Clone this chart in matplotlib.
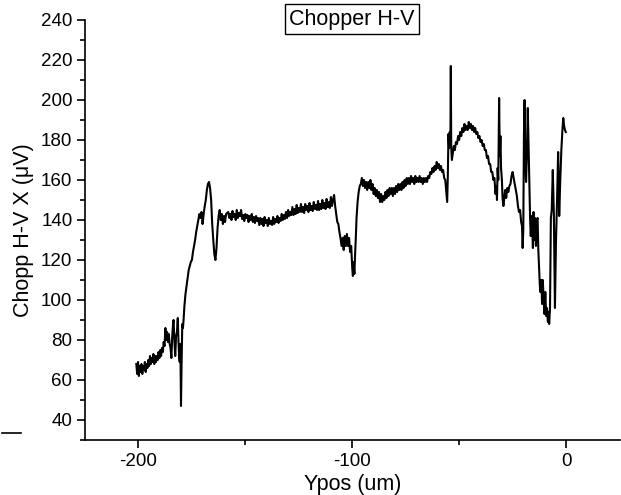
import matplotlib
matplotlib.use("Agg")
import matplotlib.pyplot as plt
from matplotlib.ticker import MultipleLocator
from matplotlib.lines import Line2D

plt.rcParams['font.family'] = ['Liberation Sans', 'DejaVu Sans']

# ---- data ----
xpos_a = [-201.0, -200.6, -200.2, -199.8, -199.4, -199.0, -198.6, -198.2, -197.8, -197.4,
          -197.0, -196.6, -196.2, -195.8, -195.4, -195.0, -194.6, -194.2, -193.8, -193.4,
          -193.0, -192.6, -192.2, -191.8, -191.4, -191.0, -190.6, -190.2, -189.8, -189.4,
          -189.0, -188.6, -188.2, -187.8, -187.4, -187.0, -186.6, -186.2, -185.8, -185.4,
          -185.0, -184.6, -184.2, -183.8, -183.6, -183.2, -182.8, -182.4, -182.0, -181.6,
          -181.3, -181.0, -180.7, -180.4, -180.1, -179.8, -179.5, -179.2, -178.9]
volt_a = [68, 63, 69, 62, 67, 64, 68, 63, 67, 65,
          69, 64, 68, 66, 70, 67, 72, 68, 71, 69,
          73, 68, 72, 69, 72, 70, 74, 71, 75, 72,
          76, 74, 79, 77, 86, 80, 84, 79, 83, 78,
          76, 71, 82, 88, 90, 80, 72, 82, 84, 91,
          80, 72, 69, 78, 47, 70, 88, 86, 90]

xpos_b = [-178.5, -178.0, -177.5, -177.0, -176.5, -176.0, -175.5, -175.0, -174.5, -174.0,
          -173.5, -173.0, -172.5, -172.0, -171.5, -171.0, -170.5, -170.0, -169.5, -169.0,
          -168.5, -168.0, -167.5, -167.0, -166.5, -166.0, -165.5, -165.0, -164.5, -164.0,
          -163.5, -163.0, -162.5, -162.0, -161.5, -161.0, -160.5, -160.0, -159.5, -159.0]
volt_b = [97, 103, 107, 111, 115, 117, 119, 120, 124, 127,
          130, 134, 137, 140, 143, 141, 144, 138, 143, 147,
          150, 155, 158, 159, 156, 150, 138, 130, 123, 120,
          126, 136, 142, 145, 140, 143, 138, 142, 139, 143]

xpos_c = [-158.0, -157.5, -157.0, -156.5, -156.0, -155.5, -155.0, -154.5, -154.0, -153.5,
          -153.0, -152.5, -152.0, -151.5, -151.0, -150.5, -150.0, -149.5, -149.0, -148.5,
          -148.0, -147.5, -147.0, -146.5, -146.0, -145.5, -145.0, -144.5, -144.0, -143.5,
          -143.0, -142.5, -142.0, -141.5, -141.0, -140.5, -140.0, -139.5, -139.0, -138.5,
          -138.0, -137.5, -137.0, -136.5, -136.0, -135.5, -135.0, -134.5, -134.0, -133.5,
          -133.0, -132.5, -132.0, -131.5, -131.0, -130.5, -130.0, -129.5, -129.0, -128.5,
          -128.0, -127.5, -127.0, -126.5, -126.0, -125.5, -125.0, -124.5, -124.0, -123.5,
          -123.0, -122.5, -122.0, -121.5, -121.0, -120.5, -120.0, -119.5, -119.0, -118.5,
          -118.0, -117.5, -117.0, -116.5, -116.0, -115.5, -115.0, -114.5, -114.0, -113.5,
          -113.0, -112.5, -112.0, -111.5, -111.0, -110.5, -110.0, -109.5, -109.0, -108.5,
          -108.0]
volt_c = [144, 141, 143, 140, 144.5, 141.5, 143, 140, 145, 141,
          143.5, 142, 145, 140.5, 142.5, 139.5, 143, 141, 142.5, 139,
          142, 140, 143, 139, 141.5, 138.5, 142, 139.5, 141, 137.5,
          141, 138, 140.5, 137, 141.5, 138.5, 140, 137, 141, 138,
          139.5, 137.5, 141.5, 138, 140.5, 139, 142, 138.5, 141, 139.5,
          143, 140, 142.5, 140.5, 144, 141, 145, 142, 144, 142.5,
          146.5, 142.5, 145.5, 143, 147.5, 143.5, 146, 144, 148, 144,
          146.5, 143.5, 148, 145, 147, 144, 148.5, 145, 147, 144.5,
          149, 145.5, 147.5, 145, 149.5, 145, 148, 145.5, 150, 146,
          148.5, 145.5, 150.5, 146.5, 149, 146, 151.5, 147, 150, 152.5,
          147]

xpos_d = [-107.5, -107.0, -106.5, -106.0, -105.5, -105.0, -104.5, -104.0, -103.5, -103.0,
          -102.5, -102.0, -101.5, -101.0, -100.5, -100.0, -99.7, -99.4, -99.0, -98.7,
          -98.3, -98.0, -97.5, -97.0, -96.5, -96.0, -95.5, -95.0, -94.5, -94.0,
          -93.5, -93.0, -92.5, -92.0, -91.5, -91.0, -90.5, -90.0, -89.5, -89.0,
          -88.5, -88.0, -87.5, -87.0, -86.5, -86.0, -85.5, -85.0, -84.5, -84.0,
          -83.5, -83.0, -82.5, -82.0, -81.5, -81.0, -80.5, -80.0, -79.5, -79.0,
          -78.5, -78.0, -77.5, -77.0, -76.5, -76.0, -75.5, -75.0, -74.5, -74.0,
          -73.5, -73.0, -72.5, -72.0, -71.5, -71.0, -70.5, -70.0, -69.5, -69.0,
          -68.5, -68.0, -67.5, -67.0, -66.5, -66.0, -65.5, -65.0, -64.5, -64.0,
          -63.5, -63.0, -62.5, -62.0, -61.5, -61.0, -60.5, -60.0, -59.5, -59.0,
          -58.5, -58.0, -57.5, -57.0, -56.5, -56.0]
volt_d = [143, 139, 138, 134, 131, 127, 131, 125, 132, 127,
          133, 127, 131, 124, 127, 116, 112, 119, 113, 122,
          132, 141, 149, 154, 157, 158, 161, 157, 160, 156,
          159, 155, 159, 156, 160, 155, 158, 153, 156, 152,
          155, 151, 154, 149, 153, 149, 152, 150, 154, 151,
          155, 152, 156, 153, 156, 152, 156, 153, 157, 154,
          158, 155, 158, 155, 159, 156, 160, 157, 161, 158,
          161, 158, 162, 159, 161, 158, 162, 159, 161, 159,
          162, 159, 161, 158, 161, 159, 161, 159, 162, 161,
          164, 163, 166, 164, 167, 165, 169, 166, 168, 165,
          167, 164, 165, 161, 160, 154]

xpos_e = [-55.6, -55.3, -55.0, -54.7, -54.4, -54.1, -53.9, -53.7, -53.4, -53.0,
          -52.5, -52.0, -51.5, -51.0, -50.5, -50.0, -49.5, -49.0, -48.5, -48.0,
          -47.5, -47.0, -46.5, -46.0, -45.5, -45.0, -44.5, -44.0, -43.5, -43.0,
          -42.5, -42.0, -41.5, -41.0, -40.5, -40.0, -39.5, -39.0, -38.5, -38.0,
          -37.5, -37.0, -36.5, -36.0, -35.5, -35.0, -34.5, -34.0, -33.5, -33.0,
          -32.6, -32.3, -32.0, -31.7, -31.3, -31.0, -30.7, -30.4, -30.0, -29.7,
          -29.3, -29.0, -28.5, -28.0, -27.5, -27.0, -26.5, -26.0, -25.5, -25.0,
          -24.5, -24.0, -23.5, -23.0, -22.5, -22.0, -21.5, -21.0, -20.6, -20.3,
          -20.0, -19.7, -19.4, -19.1, -18.7, -18.3, -17.9, -17.6, -17.2, -16.8,
          -16.5, -16.1, -15.8, -15.5, -15.2, -14.8, -14.5, -14.1, -13.7, -13.3,
          -13.0, -12.6, -12.3, -12.0, -11.6, -11.2, -10.9, -10.5, -10.1, -9.7,
          -9.3, -8.9, -8.5, -8.2, -7.9, -7.5, -7.1, -6.7, -6.2, -5.7,
          -5.2, -4.7, -4.2, -3.7, -3.2, -2.7, -2.2, -1.7, -1.3, -0.9,
          -0.5, -0.1]
volt_e = [149, 162, 183, 176, 184, 178, 217, 176, 170, 173,
          177, 175, 179, 178, 182, 180, 184, 182, 186, 184,
          188, 185, 187, 185, 189, 186, 188, 185, 187, 184,
          186, 183, 184, 181, 182, 179, 180, 177, 178, 175,
          175, 171, 172, 168, 168, 164, 164, 160, 161, 153,
          157, 150, 166, 160, 201, 172, 182, 166, 160, 151,
          147, 150, 155, 151, 156, 154, 157, 158, 162, 164,
          161, 158, 155, 152, 147, 144, 145, 139, 137, 126,
          135, 182, 200, 171, 159, 174, 196, 181, 160, 140,
          132, 142, 136, 126, 144, 130, 141, 127, 140, 141,
          126, 116, 108, 104, 110, 98, 110, 102, 93, 104,
          92, 96, 89, 94, 88, 96, 141, 145, 165, 143,
          96, 130, 150, 174, 142, 160, 175, 185, 191, 187,
          185, 184]

xpos = xpos_a + xpos_b + xpos_c + xpos_d + xpos_e
volt = volt_a + volt_b + volt_c + volt_d + volt_e

x_ticks = [-200, -100, 0]
y_ticks = [40, 60, 80, 100, 120, 140, 160, 180, 200, 220, 240]

# ---- figure ----
fig = plt.figure(figsize=(6.21, 4.95), dpi=100)
ax = fig.add_axes([85 / 621, 1 - 440 / 495, (619.5 - 85) / 621, (440 - 20) / 495])

ax.plot(xpos, volt, color='black', linewidth=1.5)

ax.set_xlim(-225, 25)
ax.set_ylim(30, 240)
ax.set_xticks(x_ticks)
ax.set_xticklabels([str(t) for t in x_ticks])
ax.set_yticks(y_ticks)
ax.xaxis.set_minor_locator(MultipleLocator(50))
ax.yaxis.set_minor_locator(MultipleLocator(10))

for side in ('top', 'right'):
    ax.spines[side].set_visible(False)
for side in ('left', 'bottom'):
    ax.spines[side].set_linewidth(1.2)

ax.tick_params(which='major', direction='out', length=6, width=1.2, labelsize=13.5, pad=3)
ax.tick_params(which='minor', direction='out', length=3.5, width=1.2)

ax.set_xlabel('Ypos (um)', fontsize=15.5, labelpad=3)
ax.set_ylabel('Chopp H-V X (\u03bcV)', fontsize=15.5, labelpad=5)

fig.text(352 / 621, 1 - 19 / 495, 'Chopper H-V', ha='center', va='center', fontsize=15.5,
         bbox=dict(facecolor='white', edgecolor='black', linewidth=1.0, pad=3))

fig.add_artist(Line2D([2 / 621, 21 / 621], [1 - 433 / 495, 1 - 433 / 495],
                      color='black', linewidth=1.2, transform=fig.transFigure))

fig.savefig('out.png', dpi=100)
